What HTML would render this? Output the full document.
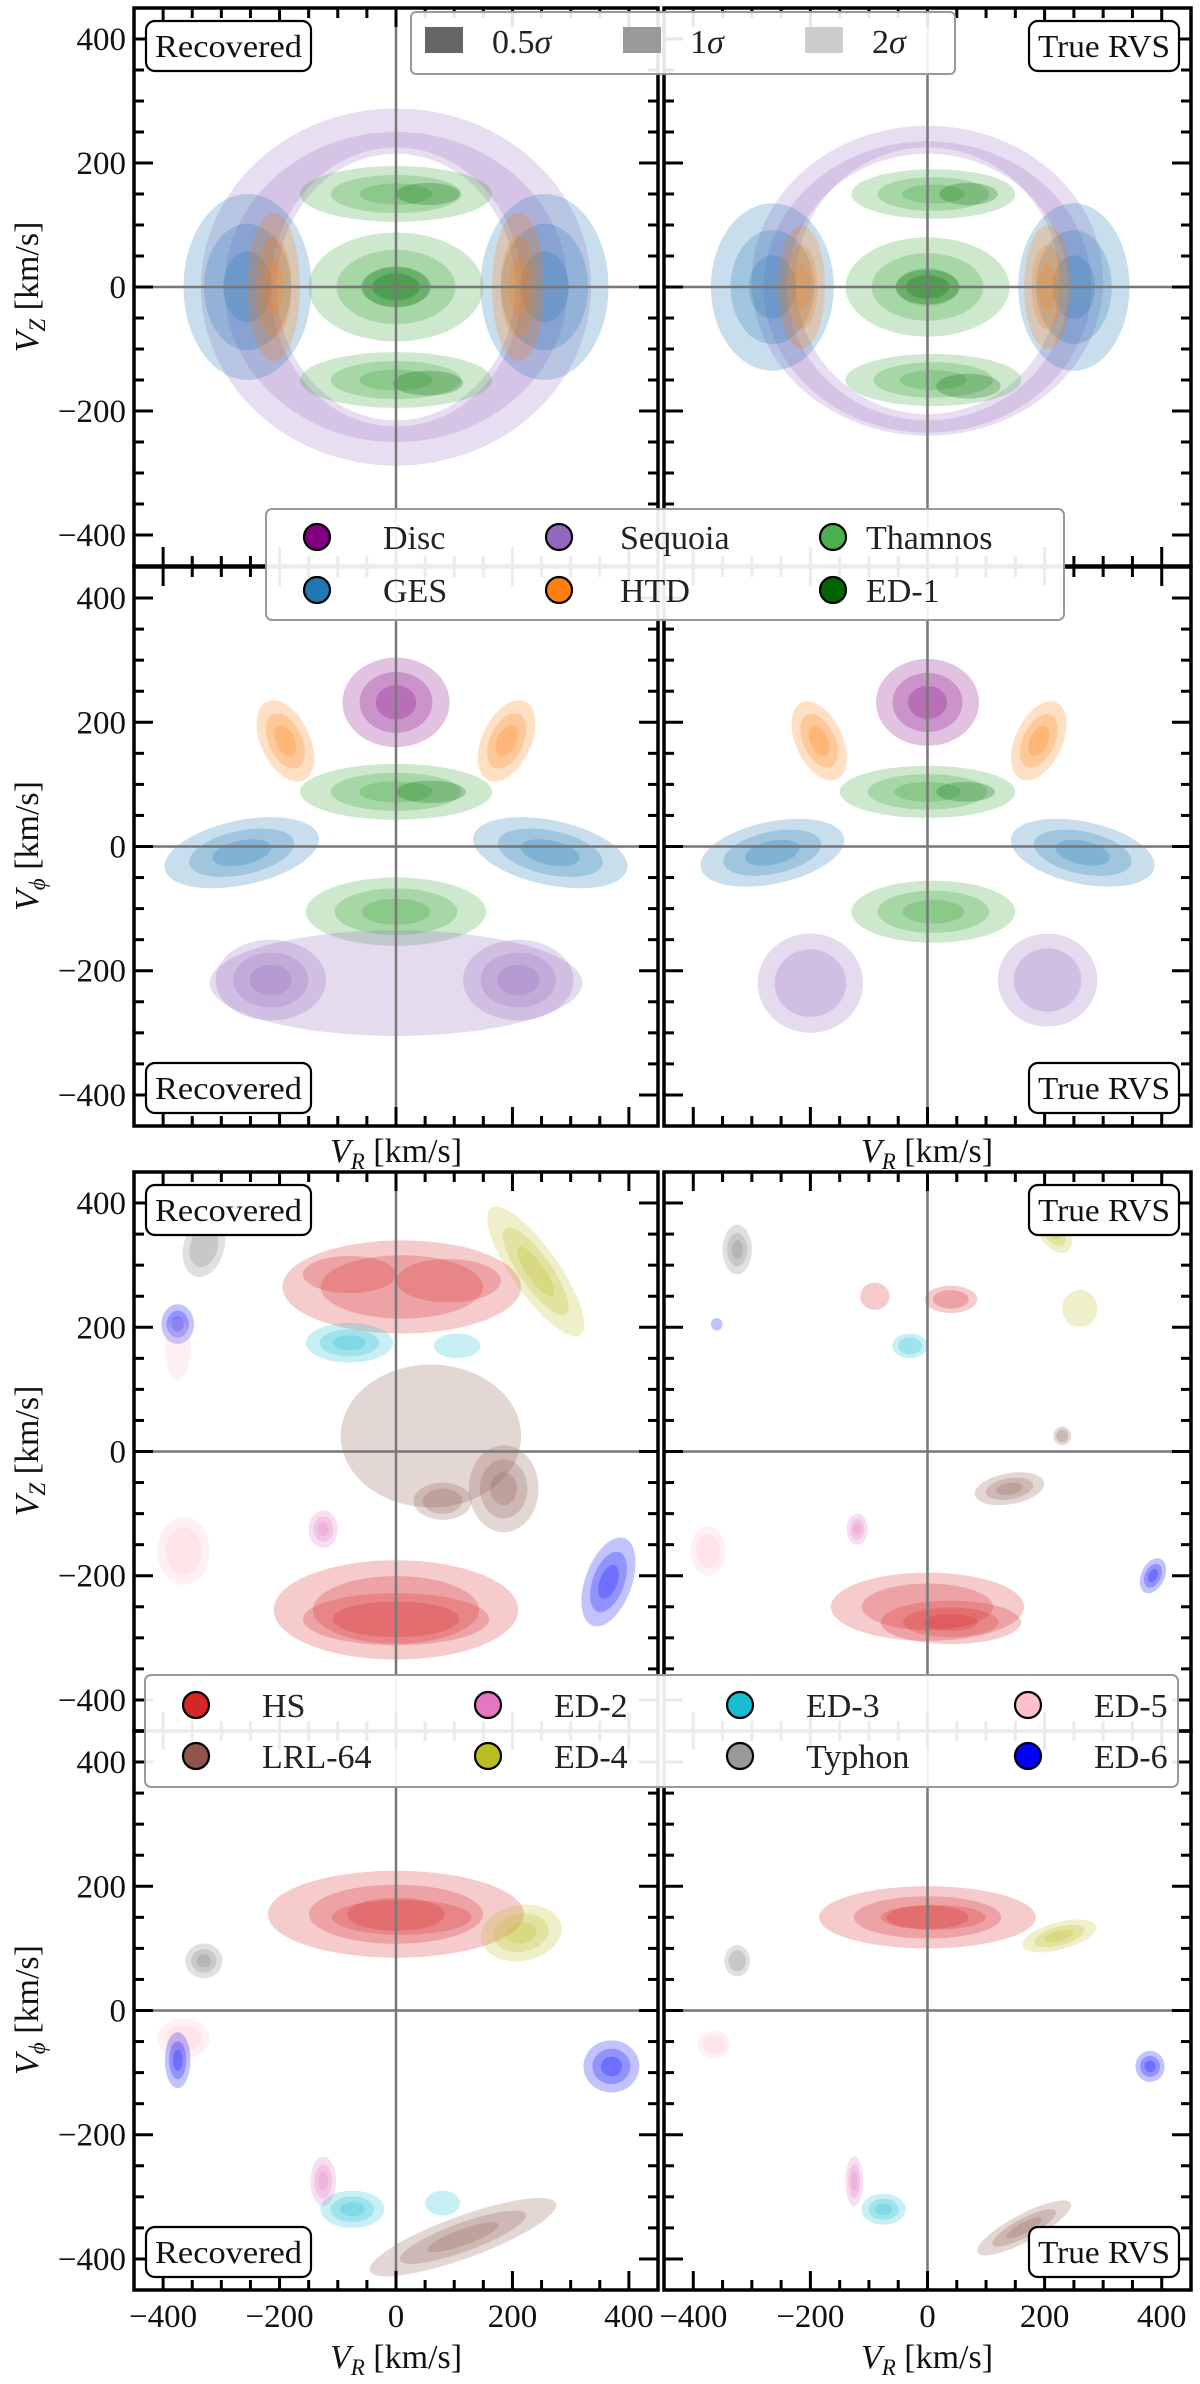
<!DOCTYPE html>
<html><head><meta charset="utf-8">
<style>
html,body{margin:0;padding:0;background:#fff;}
svg{display:block;font-family:"Liberation Serif","DejaVu Serif",serif;}
</style></head>
<body>
<svg id="fig" width="1200" height="2384" viewBox="0 0 1200 2384" xmlns="http://www.w3.org/2000/svg">
<defs id="defs"></defs>
<g id="marks"></g>
<g id="axes"></g>
<g id="legends">
  <g>
    <rect x="411" y="12" width="544" height="62" rx="5" fill="#fff" fill-opacity="0.9" stroke="#999" stroke-width="2"/>
    <rect x="425" y="27" width="38" height="26" fill="#666"/>
    <text x="492" y="53" font-size="34" fill="#222">0.5<tspan font-style="italic">σ</tspan></text>
    <rect x="623" y="27" width="38" height="26" fill="#999"/>
    <text x="690" y="53" font-size="34" fill="#222">1<tspan font-style="italic">σ</tspan></text>
    <rect x="805" y="27" width="38" height="26" fill="#ccc"/>
    <text x="872" y="53" font-size="34" fill="#222">2<tspan font-style="italic">σ</tspan></text>
  </g>
</g>
</svg>
<script>
// ---------- data ----------
const comps1 = ["Disc","Sequoia","Thamnos","GES","HTD","ED-1"];
const colors1 = ["#800080","#9467bd","#2ca02c","#1f77b4","#ff7f0e","#006400"];
const comps2 = ["HS","ED-2","ED-3","ED-5","LRL-64","ED-4","Typhon","ED-6"];
const colors2 = ["#d62728","#e377c2","#17becf","#ffc0cb","#8c564b","#bcbd22","#7f7f7f","#0000ff"];
const xTicks = [-400,-200,0,200,400];
const yTicks = [-400,-200,0,200,400];
const xTickLabels = ["\u2212400","\u2212200","0","200","400"];
const yTickLabels = ["\u2212400","\u2212200","0","200","400"];
const levelScales = [1.0, 0.68, 0.38];
// blobs: [componentIndex, vR, v, rx, ry, angleDeg, levels]
const blobsP1L = [
 [3,-255,0,110,150,0,3],[3,255,0,110,150,0,3],
 [4,-210,0,45,120,0,3],[4,210,0,45,120,0,3],
 [2,0,0,150,88,0,3],[5,0,0,60,32,0,2],
 [2,0,150,165,45,0,3],[2,0,-150,165,45,0,3],
 [5,55,150,55,18,0,1],[5,55,-155,60,20,0,1]
];
const ringsP1L = [[1,0,0,335,288,205,215],[1,0,0,295,250,215,225]];
const blobsP1R = [
 [3,-265,0,105,135,0,3],[3,250,0,95,135,0,3],
 [4,-215,0,40,100,0,3],[4,205,0,40,100,0,3],
 [2,0,0,140,80,0,3],[5,0,0,55,28,0,2],
 [2,10,150,140,40,0,3],[2,10,-150,150,42,0,3],
 [5,70,150,50,18,0,1],[5,70,-160,55,20,0,1]
];
const ringsP1R = [[1,0,10,300,250,225,215],[1,0,0,280,235,240,215]];
const blobsP2L = [
 [0,0,232,92,72,0,3],
 [4,-190,170,42,70,-25,3],[4,190,170,42,70,25,3],
 [2,0,88,165,45,0,3],[5,60,88,60,18,0,1],
 [3,-265,-10,135,52,-12,3],[3,265,-10,135,52,12,3],
 [2,0,-105,155,55,0,3],
 [1,0,-220,320,85,0,1],[1,-215,-215,95,65,0,3],[1,210,-215,95,65,0,3]
];
const blobsP2R = [
 [0,0,232,88,70,0,3],
 [4,-185,170,40,68,-25,3],[4,190,170,40,68,25,3],
 [2,0,88,150,42,0,3],[5,65,88,50,16,0,1],
 [3,-265,-10,125,50,-12,3],[3,265,-10,125,50,12,3],
 [2,10,-105,140,50,0,3],
 [1,-200,-220,90,80,0,2],[1,205,-215,85,75,0,2]
];
const blobsP3L = [
 [0,10,265,205,75,0,2],[0,-80,285,80,30,0,1],[0,90,275,90,35,0,1],
 [2,-80,175,75,32,0,3],[2,105,170,40,20,0,1],
 [4,60,25,155,115,0,1],[4,185,-60,60,70,0,3],[4,80,-80,50,30,0,2],
 [5,240,290,40,125,-35,3],
 [6,-330,330,35,50,15,2],
 [7,-375,205,28,32,0,3],[3,-375,165,22,50,0,1],
 [3,-365,-160,45,55,0,2],[1,-125,-125,25,30,0,3],
 [0,0,-255,210,80,0,2],[0,0,-270,160,42,0,2],
 [7,365,-210,40,75,20,3]
];
const blobsP3R = [
 [0,-90,250,25,22,0,1],[0,40,245,45,22,0,2],
 [2,-30,170,30,20,0,2],
 [4,140,-60,60,25,-10,3],[4,230,25,15,15,0,2],
 [5,215,355,25,40,-35,3],[5,260,230,30,30,0,1],
 [6,-325,325,25,40,0,3],
 [7,-360,205,10,10,0,1],
 [3,-375,-160,30,40,0,2],[1,-120,-125,18,25,0,3],
 [0,0,-250,165,55,0,2],[0,40,-275,120,35,0,3],
 [7,385,-200,20,30,25,3]
];
const blobsP4L = [
 [0,0,155,220,70,0,3],[0,10,150,120,28,0,1],
 [5,215,125,70,45,-10,3],
 [6,-330,80,32,28,0,3],
 [3,-365,-45,45,32,0,2],[7,-375,-80,22,45,0,3],
 [7,370,-90,48,42,0,3],
 [1,-125,-275,22,40,0,3],[2,-75,-320,55,30,0,3],[2,80,-310,30,20,0,1],
 [4,115,-365,170,34,-20,3]
];
const blobsP4R = [
 [0,0,150,185,50,0,3],[0,10,150,90,20,0,1],
 [5,225,120,65,22,-15,3],
 [6,-325,80,22,25,0,2],
 [3,-365,-55,28,22,0,2],
 [7,380,-90,25,25,0,3],
 [1,-125,-275,15,40,0,3],[2,-75,-320,38,25,0,3],
 [4,165,-350,90,22,-28,3]
];
// ---------- layout ----------
const NS="http://www.w3.org/2000/svg";
const panels=[
 {id:"p1-recovered",x0:134,x1:658,y0:8,y1:566,blobs:blobsP1L,rings:ringsP1L,col:colors1,label:"Recovered",lab:"tl",ylab:true},
 {id:"p1-true-rvs",x0:664,x1:1191,y0:8,y1:566,blobs:blobsP1R,rings:ringsP1R,col:colors1,label:"True RVS",lab:"tr",ylab:false},
 {id:"p2-recovered",x0:134,x1:658,y0:567,y1:1126,blobs:blobsP2L,rings:[],col:colors1,label:"Recovered",lab:"bl",ylab:true},
 {id:"p2-true-rvs",x0:664,x1:1191,y0:567,y1:1126,blobs:blobsP2R,rings:[],col:colors1,label:"True RVS",lab:"br",ylab:false},
 {id:"p3-recovered",x0:134,x1:658,y0:1172,y1:1731,blobs:blobsP3L,rings:[],col:colors2,label:"Recovered",lab:"tl",ylab:true},
 {id:"p3-true-rvs",x0:664,x1:1191,y0:1172,y1:1731,blobs:blobsP3R,rings:[],col:colors2,label:"True RVS",lab:"tr",ylab:false},
 {id:"p4-recovered",x0:134,x1:658,y0:1731,y1:2290,blobs:blobsP4L,rings:[],col:colors2,label:"Recovered",lab:"bl",ylab:true,xt:true},
 {id:"p4-true-rvs",x0:664,x1:1191,y0:1731,y1:2290,blobs:blobsP4R,rings:[],col:colors2,label:"True RVS",lab:"br",ylab:false,xt:true}
];
const marks=document.getElementById('marks'),axes=document.getElementById('axes'),defs=document.getElementById('defs');
function mk(tag,attrs,parent){const e=document.createElementNS(NS,tag);for(const k in attrs)e.setAttribute(k,attrs[k]);if(parent)parent.appendChild(e);return e;}
function tsp(parent,txt,attrs){const t=mk('tspan',attrs||{},parent);t.textContent=txt;return t;}
panels.forEach((p,pi)=>{
 const xs=v=>p.x0+(v+450)/900*(p.x1-p.x0);
 const ys=v=>p.y1-(v+450)/900*(p.y1-p.y0);
 const kx=(p.x1-p.x0)/900, ky=(p.y1-p.y0)/900;
 const cp=mk('clipPath',{id:'clip'+pi},defs);
 mk('rect',{x:p.x0,y:p.y0,width:p.x1-p.x0,height:p.y1-p.y0},cp);
 const g=mk('g',{'clip-path':'url(#clip'+pi+')'},marks);
 
 
 p.rings.forEach(r=>{
  const [c,vx,vy,rxo,ryo,rxi,ryi]=r;
  const cx=xs(vx),cy=ys(vy);
  const d=`M${cx-rxo*kx},${cy}a${rxo*kx},${ryo*ky} 0 1,0 ${2*rxo*kx},0a${rxo*kx},${ryo*ky} 0 1,0 ${-2*rxo*kx},0Z M${cx-rxi*kx},${cy}a${rxi*kx},${ryi*ky} 0 1,0 ${2*rxi*kx},0a${rxi*kx},${ryi*ky} 0 1,0 ${-2*rxi*kx},0Z`;
  const e=mk('path',{d:d,'fill-rule':'evenodd',fill:p.col[c],'fill-opacity':0.22},g);
  
  
 });
 p.blobs.forEach(b=>{
  const [c,vx,vy,rx,ry,ang,lv]=b;
  for(let l=0;l<lv;l++){
   const s=levelScales[l];
   const e=mk('ellipse',{cx:xs(vx),cy:ys(vy),rx:rx*s*kx,ry:ry*s*ky,fill:p.col[c],'fill-opacity':0.24,transform:`rotate(${ang} ${xs(vx)} ${ys(vy)})`},g);
   
   
  }
 });
 const ch=mk('g',{stroke:'#777','stroke-width':2.5},axes);
 
 
 mk('line',{x1:xs(0),x2:xs(0),y1:p.y0,y2:p.y1},ch);
 mk('line',{x1:p.x0,x2:p.x1,y1:ys(0),y2:ys(0)},ch);
 const tg=mk('g',{stroke:'#000','stroke-width':3},axes);
 
 
 for(let v=-400;v<=400;v+=50){
  const L=(v%200===0)?19:10;
  mk('line',{x1:xs(v),x2:xs(v),y1:p.y1,y2:p.y1-L},tg);
  mk('line',{x1:xs(v),x2:xs(v),y1:p.y0,y2:p.y0+L},tg);
  mk('line',{x1:p.x0,x2:p.x0+L,y1:ys(v),y2:ys(v)},tg);
  mk('line',{x1:p.x1,x2:p.x1-L,y1:ys(v),y2:ys(v)},tg);
 }
 const fr=mk('rect',{x:p.x0,y:p.y0,width:p.x1-p.x0,height:p.y1-p.y0,fill:'none',stroke:'#000','stroke-width':3.5},axes);
 
 
 if(p.ylab){
  yTicks.forEach((v,i)=>{
   const t=mk('text',{x:p.x0-8,y:ys(v)+11,'text-anchor':'end','font-size':33,fill:'#111'},axes);
   t.textContent=yTickLabels[i];
   
   
  });
 }
 if(p.xt){
  xTicks.forEach((v,i)=>{
   const t=mk('text',{x:xs(v),y:2327,'text-anchor':'middle','font-size':33,fill:'#111'},axes);
   t.textContent=xTickLabels[i];
   
   
  });
 }
 const w=p.label==="Recovered"?165:150,h=50;
 let bx,by;
 if(p.lab[1]==='l')bx=p.x0+12;else bx=p.x1-12-w;
 if(p.lab[0]==='t')by=p.y0+13;else by=p.y1-13-h;
 const lg=mk('g',{},axes);
 
 
 mk('rect',{x:bx,y:by,width:w,height:h,rx:9,fill:'#fff',stroke:'#000','stroke-width':2.2},lg);
 const lt=mk('text',{x:bx+w/2,y:by+36,'text-anchor':'middle','font-size':32,fill:'#111',textLength:w-18,lengthAdjust:'spacingAndGlyphs'},lg);
 lt.textContent=p.label;
});
function vlabel(x,y,sub){
 const t=mk('text',{x:x,y:y,'text-anchor':'middle','font-size':34,fill:'#111',transform:`rotate(-90 ${x} ${y})`},axes);
 tsp(t,'V',{'font-style':'italic'});
 tsp(t,sub,{'font-style':'italic','font-size':23,dy:7});
 tsp(t,' [km/s]',{dy:-7});
 
 
}
vlabel(38,287,'Z');vlabel(38,846,'\u03d5');vlabel(38,1451,'Z');vlabel(38,2010,'\u03d5');
function hlabel(x,y){
 const t=mk('text',{x:x,y:y,'text-anchor':'middle','font-size':34,fill:'#111'},axes);
 tsp(t,'V',{'font-style':'italic'});
 tsp(t,'R',{'font-style':'italic','font-size':23,dy:7});
 tsp(t,' [km/s]',{dy:-7});
 
 
}
hlabel(396,1162);hlabel(927,1162);hlabel(396,2368);hlabel(927,2368);
const legs=document.getElementById('legends');
function legend(x,y,w,h,names,cols,ncol,mx,tx,rows){
 const g=mk('g',{},legs);
 
 
 mk('rect',{x:x,y:y,width:w,height:h,rx:6,fill:'#fff','fill-opacity':0.92,stroke:'#999','stroke-width':2},g);
 names.forEach((n,i)=>{
  const r=Math.floor(i/ncol),c=i%ncol;
  const e=mk('g',{},g);
  
  
  mk('circle',{cx:mx[c],cy:rows[r],r:13,fill:cols[i],stroke:'#000','stroke-width':2.2},e);
  const t=mk('text',{x:tx[c],y:rows[r]+12,'font-size':34,fill:'#222'},e);
  t.textContent=n;
 });
}
legend(266,509,798,111,["Disc","Sequoia","Thamnos","GES","HTD","ED-1"],["#800080","#9467bd","#4caf50","#1f77b4","#ff7f0e","#006400"],3,[317,559,833],[383,620,866],[537,590]);
legend(145,1675,1033,112,["HS","ED-2","ED-3","ED-5","LRL-64","ED-4","Typhon","ED-6"],["#d62728","#e377c2","#17becf","#ffc0cb","#8c564b","#bcbd22","#999999","#0000ff"],4,[196,488,740,1028],[262,554,806,1094],[1705,1756]);
</script>
</body></html>
